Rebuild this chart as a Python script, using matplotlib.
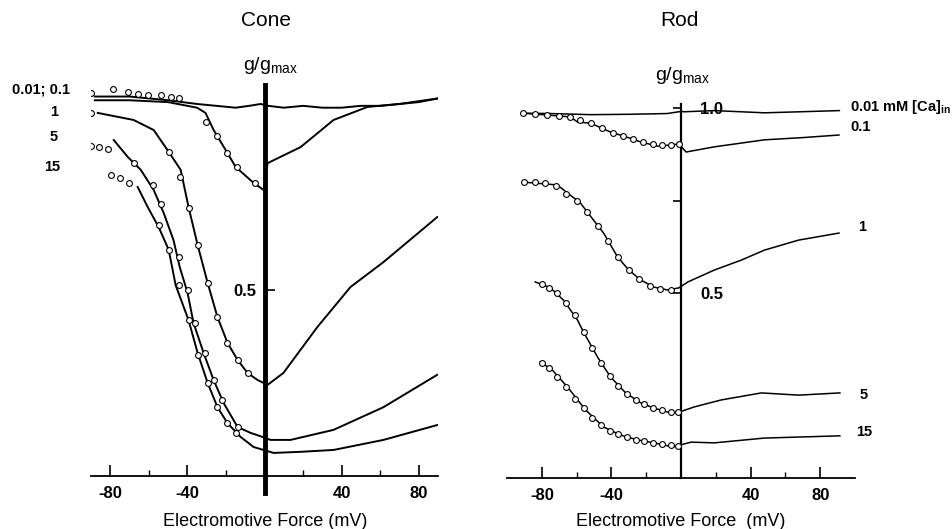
import matplotlib
matplotlib.use('Agg')
import matplotlib.pyplot as plt
from matplotlib.ticker import FixedLocator, NullFormatter

plt.rcParams['font.family'] = ['Liberation Sans', 'DejaVu Sans']
plt.rcParams['axes.unicode_minus'] = False
plt.rcParams['mathtext.fontset'] = 'custom'
plt.rcParams['mathtext.rm'] = 'Liberation Sans'

W, H = 952, 529

# ---- cone traces (mV, g/gmax) ----
cone_001_x = [-88, -70, -50, -35, -25, -15, -8, -2, 2, 10, 20, 30, 40, 50, 60, 70, 80, 90]
cone_001_y = [1.02, 1.02, 1.01, 1.0, 0.995, 0.99, 0.995, 1.0, 0.995, 0.99, 0.995, 0.99, 0.99, 0.995, 0.995, 1.0, 1.005, 1.015]
cone_01_x = [-88, -70, -50, -35, -30.6, -26.4, -19.2, -15.0, -5.7, -0.5, 1.6, 18.7, 35.8, 53.4, 70, 90]
cone_01_y = [1.01, 1.01, 1.005, 0.99, 0.976, 0.93, 0.868, 0.831, 0.788, 0.769, 0.841, 0.884, 0.957, 0.992, 1.0, 1.015]
cone_1_x = [-86.5, -67.9, -57.5, -50.3, -43.5, -39.4, -34.7, -29.5, -24.4, -19.2, -14.0, -8.8, -3.6,
            1.6, 9.8, 27.5, 44.6, 61.7, 89.6]
cone_1_y = [0.976, 0.957, 0.93, 0.876, 0.823, 0.723, 0.621, 0.519, 0.427, 0.358, 0.312, 0.277, 0.258,
            0.245, 0.277, 0.401, 0.508, 0.575, 0.696]
cone_5_x = [-78.2, -71.0, -64.2, -57.5, -52.3, -47.2, -44.0, -39.9, -36.8, -31.6, -26.4, -21.2, -14.0, -7.3, -1.0,
            3.1, 13.5, 35.8, 61.7, 89.6]
cone_5_y = [0.903, 0.858, 0.823, 0.769, 0.707, 0.634, 0.562, 0.492, 0.411, 0.331, 0.258, 0.196, 0.132, 0.116, 0.105,
            0.097, 0.097, 0.124, 0.185, 0.272]
cone_15_x = [-65.8, -60.6, -54.9, -49.7, -46.1, -39.4, -34.7, -29.5, -24.4, -19.2, -12.4, -5.7,
             4.7, 18.7, 35.8, 61.7, 89.6]
cone_15_y = [0.777, 0.723, 0.669, 0.608, 0.513, 0.419, 0.331, 0.25, 0.185, 0.142, 0.105, 0.078,
             0.062, 0.065, 0.07, 0.097, 0.137]

# cone fit points (circles)
cone_fit_top_x = [-90, -78.8, -71, -65.8, -60.6, -53.9, -48.7, -44.6, -30.6, -24.9, -19.2, -14.5, -4.7]
cone_fit_top_y = [1.03, 1.04, 1.032, 1.027, 1.024, 1.024, 1.018, 1.016, 0.952, 0.914, 0.868, 0.831, 0.788]
cone_fit_1_x = [-90, -49.7, -44, -39.4, -34.7, -29.5, -24.4, -19.2, -14, -8.8]
cone_fit_1_y = [0.976, 0.871, 0.804, 0.72, 0.621, 0.519, 0.427, 0.358, 0.312, 0.277]
cone_fit_5_x = [-90, -86, -81.3, -67.9, -58, -53.9, -44.6, -39.9, -35.8, -31.1, -26.4, -21.8, -13.5]
cone_fit_5_y = [0.887, 0.884, 0.879, 0.841, 0.782, 0.731, 0.589, 0.5, 0.411, 0.331, 0.258, 0.204, 0.132]
cone_fit_15_x = [-79.8, -75.1, -70.5, -54.9, -49.7, -44.6, -39.4, -34.7, -29.5, -24.4, -19.2, -15]
cone_fit_15_y = [0.809, 0.801, 0.788, 0.675, 0.608, 0.513, 0.419, 0.325, 0.25, 0.185, 0.142, 0.116]

# ---- rod traces ----
rod_001_x = [-91, -75, -52, -30, -8, -1, 3, 19, 48, 70, 91]
rod_001_y = [0.986, 0.985, 0.982, 0.983, 0.985, 0.99, 0.99, 0.993, 0.987, 0.99, 0.993]
rod_01_x = [-91, -76.9, -63.6, -59.5, -52, -40.5, -27.7, -23.1, -13.3, -5.8, -1.2,
            2.9, 19.1, 48, 70, 90.8]
rod_01_y = [0.986, 0.981, 0.976, 0.962, 0.959, 0.935, 0.916, 0.908, 0.897, 0.9, 0.903,
            0.881, 0.895, 0.914, 0.92, 0.927]
rod_1_x = [-91.3, -71.1, -57.8, -50.3, -44.5, -36.4, -30, -23.1, -15.6, -7.5, -1.2,
           4, 19.1, 34.7, 48, 67.6, 90.8]
rod_1_y = [0.8, 0.792, 0.743, 0.697, 0.662, 0.597, 0.562, 0.535, 0.516, 0.508, 0.514,
           0.53, 0.562, 0.589, 0.616, 0.643, 0.662]
rod_5_x = [-83.8, -75.1, -67.6, -59.5, -56.1, -48, -40.5, -31.8, -23.1, -15.6, -7.5, -1.2,
           7.5, 23.1, 46.2, 67.6, 91.3]
rod_5_y = [0.53, 0.514, 0.481, 0.427, 0.395, 0.327, 0.273, 0.23, 0.203, 0.189, 0.178, 0.178,
           0.192, 0.211, 0.23, 0.224, 0.23]
rod_15_x = [-80.9, -74, -64.7, -54.9, -44.5, -34.7, -24.9, -15.6, -4.6,
            5.8, 19.1, 48, 91.3]
rod_15_y = [0.314, 0.292, 0.243, 0.184, 0.138, 0.116, 0.103, 0.095, 0.084,
            0.097, 0.095, 0.108, 0.114]

# rod fit points (circles)
rod_fit_01_x = [-90.7, -83.8, -76.9, -70.3, -63.6, -57.8, -52, -45.5, -39.3, -33.5, -27.7, -22, -16.2, -11, -5.8, -1.2]
rod_fit_01_y = [0.986, 0.984, 0.981, 0.979, 0.976, 0.968, 0.959, 0.946, 0.932, 0.924, 0.916, 0.909, 0.903, 0.901, 0.9, 0.903]
rod_fit_1_x = [-90, -84, -78, -72, -66, -60, -54, -48, -42, -36, -30, -24, -18, -12, -6]
rod_fit_1_y = [0.8, 0.8, 0.797, 0.79, 0.768, 0.75, 0.72, 0.68, 0.64, 0.597, 0.562, 0.537, 0.52, 0.51, 0.508]
rod_fit_5_x = [-80, -76, -71, -66, -61, -56, -51, -46, -41, -36, -31, -26, -21, -16, -11, -6, -2]
rod_fit_5_y = [0.525, 0.514, 0.5, 0.473, 0.44, 0.395, 0.352, 0.31, 0.275, 0.25, 0.228, 0.21, 0.2, 0.19, 0.183, 0.179, 0.178]
rod_fit_15_x = [-80, -76, -71, -66, -61, -56, -51, -46, -41, -36, -31, -26, -21, -16, -11, -6, -2]
rod_fit_15_y = [0.31, 0.298, 0.272, 0.245, 0.213, 0.188, 0.163, 0.142, 0.128, 0.118, 0.11, 0.104, 0.1, 0.095, 0.092, 0.088, 0.086]

cone_labels = ['0.01; 0.1', '1', '5', '15']
rod_labels = [r'0.01 mM [Ca]$_{\mathregular{in}}$', '0.1', '1', '5', '15']
xtick_major = [-80, -40, 40, 80]
xtick_minor = [-60, -20, 20, 60]

fig = plt.figure(figsize=(W / 100, H / 100), dpi=100)
ax1 = fig.add_axes([0.0956, 0.058, 0.3645, 0.8017])
ax2 = fig.add_axes([0.5326, 0.0544, 0.3655, 0.7974])

mk = dict(marker='o', ls='none', ms=4.2, mfc='white', mec='black', mew=0.8, zorder=4)

for x, y in [(cone_001_x, cone_001_y), (cone_01_x, cone_01_y), (cone_1_x, cone_1_y),
             (cone_5_x, cone_5_y), (cone_15_x, cone_15_y)]:
    ax1.plot(x, y, 'k-', lw=1.4, zorder=3)
for x, y in [(cone_fit_top_x, cone_fit_top_y), (cone_fit_1_x, cone_fit_1_y),
             (cone_fit_5_x, cone_fit_5_y), (cone_fit_15_x, cone_fit_15_y)]:
    ax1.plot(x, y, **mk)

for x, y in [(rod_001_x, rod_001_y), (rod_01_x, rod_01_y), (rod_1_x, rod_1_y),
             (rod_5_x, rod_5_y), (rod_15_x, rod_15_y)]:
    ax2.plot(x, y, 'k-', lw=1.1, zorder=3)
for x, y in [(rod_fit_01_x, rod_fit_01_y), (rod_fit_1_x, rod_fit_1_y),
             (rod_fit_5_x, rod_fit_5_y), (rod_fit_15_x, rod_fit_15_y)]:
    ax2.plot(x, y, **mk)

ax1.set_xlim(-90, 90)
ax2.set_xlim(-100, 100)
for ax in (ax1, ax2):
    ax.set_ylim(-0.06, 1.08)
    ax.patch.set_visible(False)
    ax.spines['top'].set_visible(False)
    ax.spines['bottom'].set_position(('data', 0))
    ax.spines['bottom'].set_linewidth(1.3)
    ax.xaxis.set_major_locator(FixedLocator(xtick_major))
    ax.xaxis.set_minor_locator(FixedLocator(xtick_minor))
    ax.xaxis.set_minor_formatter(NullFormatter())
    ax.tick_params(axis='x', which='major', direction='in', length=8, width=1.2,
                   labelsize=12, pad=7)
    ax.tick_params(axis='x', which='minor', direction='in', length=4, width=1.0)
    for lab in ax.get_xticklabels():
        lab.set_fontweight('bold')

# cone: thick spine at 0 (transient artifact), label on left
ax1.spines['right'].set_visible(False)
ax1.spines['left'].set_position(('data', 0))
ax1.spines['left'].set_bounds(-0.045, 1.05)
ax1.spines['left'].set_linewidth(3.5)
ax1.set_yticks([0.5])
ax1.set_yticklabels(['0.5'], fontweight='bold')
ax1.tick_params(axis='y', direction='in', length=7, width=1.2, labelsize=12, pad=6)

# rod: thin spine, labels on right
ax2.spines['left'].set_visible(False)
ax2.spines['right'].set_position(('data', 0))
ax2.spines['right'].set_bounds(0, 1.01)
ax2.spines['right'].set_linewidth(1.6)
ax2.yaxis.tick_right()
ax2.set_yticks([0.5, 0.75, 1.0])
ax2.set_yticklabels(['0.5', '', '1.0'], fontweight='bold')
ax2.tick_params(axis='y', direction='in', length=6, width=1.2, labelsize=12, pad=14)

def ftext(px, py, s, **kw):
    fig.text(px / W, 1 - py / H, s, **kw)

ftext(266, 20, 'Cone', ha='center', va='center', fontsize=15)
ftext(679, 20, 'Rod', ha='center', va='center', fontsize=15)
ftext(270, 65, r'g/g$_{\mathregular{max}}$', ha='center', va='center', fontsize=14)
ftext(682, 75, r'g/g$_{\mathregular{max}}$', ha='center', va='center', fontsize=14)
ftext(265, 522, 'Electromotive Force (mV)', ha='center', va='center', fontsize=13)
ftext(681, 522, 'Electromotive Force  (mV)', ha='center', va='center', fontsize=13)

for (px, py), s in zip([(41, 90), (54, 112), (54, 137), (52, 167)], cone_labels):
    ftext(px, py, s, ha='center', va='center', fontsize=10.5, fontweight='bold')
for (px, py), s in zip([(850, 107), (850, 127), (858, 227), (860, 395), (856, 432)], rod_labels):
    ftext(px, py, s, ha='left', va='center', fontsize=10.5, fontweight='bold')

fig.savefig('out.png', dpi=100)
